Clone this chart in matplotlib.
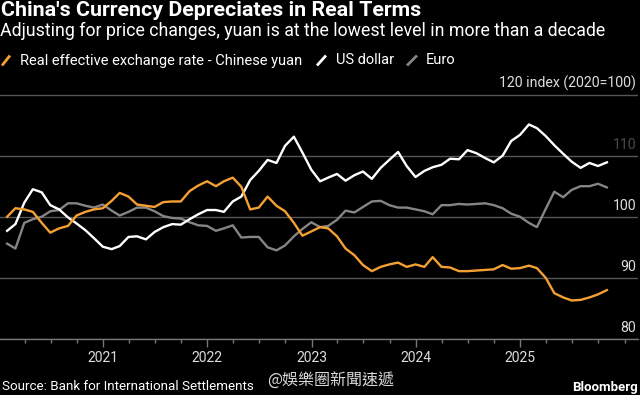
# Real effective exchange rates: yuan vs dollar vs euro (Bloomberg style)

import matplotlib
matplotlib.use('Agg')
import matplotlib.pyplot as plt
import matplotlib.dates as mdates
import matplotlib.transforms as mtransforms
from matplotlib.lines import Line2D
import pandas as pd

# monthly BIS data, Jan 2020 - Oct 2025 (month-end)
dates = pd.date_range('2020-01-31', periods=70, freq='ME')

cny = [100.0, 101.4, 101.2, 100.8, 99.0, 97.4, 98.1, 98.5, 100.2, 100.8, 101.2, 101.4,
       102.6, 103.9, 103.3, 102.0, 101.8, 101.6, 102.4, 102.5, 102.5, 104.2, 105.1, 105.8,
       105.0, 105.8, 106.4, 104.9, 101.2, 101.5, 103.3, 101.8, 100.9, 99.0, 96.9, 97.6,
       98.3, 98.1, 96.8, 94.8, 93.7, 92.1, 91.1, 91.8, 92.2, 92.5, 91.8, 92.2,
       91.8, 93.4, 91.8, 91.7, 91.1, 91.1, 91.2, 91.3, 91.4, 92.1, 91.5, 91.6,
       92.0, 91.6, 90.0, 87.5, 86.8, 86.3, 86.4, 86.8, 87.3, 88.0]

usd = [97.7, 98.8, 102.3, 104.5, 104.0, 101.9, 101.2, 99.9, 98.9, 97.8, 96.5, 95.1,
       94.7, 95.2, 96.7, 96.8, 96.3, 97.5, 98.3, 98.8, 98.7, 99.6, 100.4, 101.1,
       101.1, 100.8, 102.5, 103.3, 106.0, 107.5, 109.3, 108.8, 111.6, 113.1, 110.5, 107.7,
       105.8, 106.4, 107.0, 105.9, 106.8, 107.4, 106.2, 108.0, 109.3, 110.6, 108.3, 106.5,
       107.5, 108.1, 108.5, 109.5, 109.4, 110.9, 110.4, 109.6, 108.9, 110.0, 112.4, 113.4,
       115.1, 114.5, 113.2, 111.7, 110.3, 109.0, 108.0, 108.8, 108.3, 108.9]

eur = [95.6, 94.8, 99.0, 99.6, 100.0, 100.9, 101.1, 102.2, 102.2, 101.8, 101.5, 102.0,
       101.0, 100.2, 100.8, 101.5, 101.5, 100.9, 100.1, 99.8, 99.7, 99.1, 98.6, 98.5,
       97.7, 98.1, 98.6, 96.6, 96.7, 96.7, 95.0, 94.5, 95.3, 96.8, 98.0, 99.1,
       98.3, 98.5, 99.5, 101.0, 100.7, 101.6, 102.5, 102.6, 101.9, 101.5, 101.5, 101.2,
       100.9, 100.4, 101.9, 101.9, 102.1, 102.0, 102.1, 102.2, 101.9, 101.4, 100.5, 100.0,
       99.0, 98.3, 101.3, 104.1, 103.2, 104.4, 105.0, 105.0, 105.4, 104.8]

y_ticks = [80, 90, 100, 110, 120]
y_labels = ['80', '90', '100', '110', '120 index (2020=100)']
year_ticks = ['2021', '2022', '2023', '2024', '2025']
legend_labels = ['Real effective exchange rate - Chinese yuan', 'US dollar', 'Euro']

ORANGE = '#f5a033'
WHITE = '#ffffff'
GREY = '#858585'


def main():
    plt.rcParams['font.family'] = ['Roboto', 'DejaVu Sans']
    W, H = 640, 395
    fig = plt.figure(figsize=(6.4, 3.95), dpi=100, facecolor='black')

    # axes: y=80 at 339px, y=120 at 94.5px from top
    top_px = 94.5 - 0.5 * 6.1
    ax = fig.add_axes([0, (H - 339) / H, 638 / W, (339 - top_px) / H])
    ax.set_facecolor('black')

    ax.plot(dates, eur, color=GREY, lw=1.7, solid_joinstyle='round')
    ax.plot(dates, usd, color=WHITE, lw=1.7, solid_joinstyle='round')
    ax.plot(dates, cny, color=ORANGE, lw=1.7, solid_joinstyle='round')

    ax.set_ylim(80, 120.5)
    ax.set_xlim(pd.Timestamp('2020-01-06'), pd.Timestamp('2026-02-17'))

    ax.set_yticks(y_ticks)
    ax.yaxis.grid(True, color='#555555', lw=1)
    ax.tick_params(axis='y', length=0, labelleft=False)
    ax.set_axisbelow(True)

    ax.set_xticks([pd.Timestamp(y + '-01-01') for y in year_ticks])
    ax.set_xticklabels(year_ticks)
    ax.xaxis.set_minor_locator(mdates.MonthLocator(bymonth=[1, 4, 7, 10]))
    ax.tick_params(axis='x', which='major', length=6, width=1, color='#777777',
                   labelcolor='#dddddd', labelsize=10, pad=3)
    ax.tick_params(axis='x', which='minor', length=3, width=1, color='#777777')

    for s in ['top', 'left', 'right']:
        ax.spines[s].set_visible(False)
    ax.spines['bottom'].set_color('#777777')
    ax.spines['bottom'].set_linewidth(1)

    # right-side value labels sitting on top of the gridlines
    trans = mtransforms.blended_transform_factory(ax.transAxes, ax.transData)
    for v, lab in zip(y_ticks, y_labels):
        col = '#4a4a4a' if v == 110 else '#dddddd'
        ax.text(636 / 638, v + 0.6, lab, transform=trans, ha='right', va='bottom',
                color=col, fontsize=10.2)

    def fy(px):
        return 1 - px / H

    title = fig.text(1 / W, fy(10), "China's Currency Depreciates in Real Terms",
                     color='white', fontsize=12.5, fontweight='bold', va='center')
    sub = fig.text(0.5 / W, fy(31), 'Adjusting for price changes, yuan is at the lowest level in more than a decade',
                   color='white', fontsize=11.5, va='center')

    # legend: coloured slashes + labels
    slashes = [(2, 10), (317, 326), (407, 417)]
    text_x = [20, 336, 426]
    leg_texts = []
    for (x0, x1), tx, lab, col in zip(slashes, text_x, legend_labels, [ORANGE, WHITE, GREY]):
        fig.add_artist(Line2D([x0 / W, x1 / W], [fy(65.5), fy(55.5)], color=col, lw=2,
                              solid_capstyle='butt', transform=fig.transFigure))
        leg_texts.append(fig.text(tx / W, fy(60.5), lab, color='white', fontsize=10.5,
                                  va='center'))

    src = fig.text(1.5 / W, fy(387), 'Source: Bank for International Settlements',
                   color='white', fontsize=9.5, va='center')
    bb = fig.text(638 / W, fy(387), 'Bloomberg', color='white', fontsize=9.5,
                  fontweight='bold', va='center', ha='right')
    fig.text(267 / W, fy(380), '@娛樂圈新聞速遞', color='#d8d8d8', fontsize=11.5,
             va='center', family=['Noto Sans CJK TC', 'DejaVu Sans'])

    # scale texts to the widths measured on the reference
    renderer = fig.canvas.get_renderer()
    for t, target in [(title, 421), (sub, 609), (leg_texts[0], 283), (src, 253), (bb, 66)]:
        w = t.get_window_extent(renderer).width
        t.set_fontsize(t.get_fontsize() * target / w)
    for t in leg_texts[1:]:
        t.set_fontsize(leg_texts[0].get_fontsize())

    fig.savefig('out.png', dpi=100, facecolor='black')


if __name__ == '__main__':
    main()
